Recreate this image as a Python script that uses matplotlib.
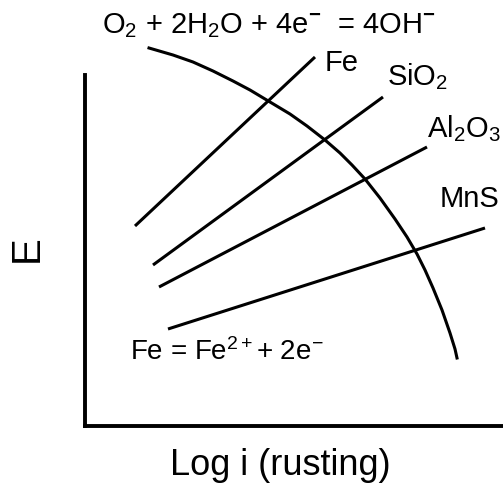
import matplotlib
matplotlib.use('Agg')
import matplotlib.pyplot as plt

plt.rcParams['font.family'] = ['Liberation Sans', 'DejaVu Sans']
plt.rcParams['mathtext.fontset'] = 'custom'
plt.rcParams['mathtext.rm'] = 'Liberation Sans'
plt.rcParams['mathtext.it'] = 'Liberation Sans'
plt.rcParams['mathtext.bf'] = 'Liberation Sans:bold'

## 阳极线 (Fe, SiO2, Al2O3, MnS) 的两端, 单位为示意图的任意单位
fe_x = [50, 230]
fe_y = [200, 369]
sio2_x = [68, 298]
sio2_y = [161, 329]
al2o3_x = [74, 342]
al2o3_y = [139, 279]
mns_x = [83, 400]
mns_y = [97, 198]

## 氧还原的阴极曲线
cath_x = [64, 88, 108, 128, 148, 165, 185, 205, 222, 240, 255, 267,
          280, 295, 310, 322, 332, 340, 348, 357, 365, 370, 372]
cath_y = [378, 371, 364, 355, 345, 336, 324, 312, 300, 286, 273, 261,
          247, 228, 207, 189, 172, 156, 138, 116, 93, 77, 68]

## 线上的标签
labels = [r'Fe', r'SiO$_2$', r'Al$_2$O$_3$', r'MnS']
label_x = [240, 302, 342, 355]
label_y = [355, 341, 289, 219]

fig = plt.figure(figsize=(5.03, 4.86), dpi=100)
ax = fig.add_axes([85/503, 60/486, 418/503, 351/486])
ax.set_xlim(0, 418)
ax.set_ylim(0, 351)

lw = 2.2
for xs, ys in [(fe_x, fe_y), (sio2_x, sio2_y), (al2o3_x, al2o3_y), (mns_x, mns_y)]:
    ax.plot(xs, ys, color='black', lw=lw, clip_on=False, solid_capstyle='butt')
ax.plot(cath_x, cath_y, color='black', lw=lw, clip_on=False,
        solid_joinstyle='round')

fs = 21
for s, x, y in zip(labels, label_x, label_y):
    ax.text(x, y, s, fontsize=fs, va='baseline', ha='left', clip_on=False)
ax.text(17, 393, r'O$_2$ + 2H$_2$O + 4e$^{\mathbf{-}}$  = 4OH$^{\mathbf{-}}$',
        fontsize=fs, va='baseline', ha='left')
ax.text(45, 66, r'Fe = Fe$^{2+}$+ 2e$^{-}$', fontsize=20, va='baseline', ha='left')

for side in ['top', 'right']:
    ax.spines[side].set_visible(False)
ax.spines['left'].set_linewidth(2.8)
ax.spines['bottom'].set_linewidth(2.8)
ax.set_xticks([])
ax.set_yticks([])

ax.set_xlabel('Log i (rusting)', fontsize=26)
ax.xaxis.set_label_coords(0.467, -0.064)
ax.set_ylabel('E', fontsize=29)
ax.yaxis.set_label_coords(-0.095, 0.504)

fig.savefig('out.png', dpi=100)
